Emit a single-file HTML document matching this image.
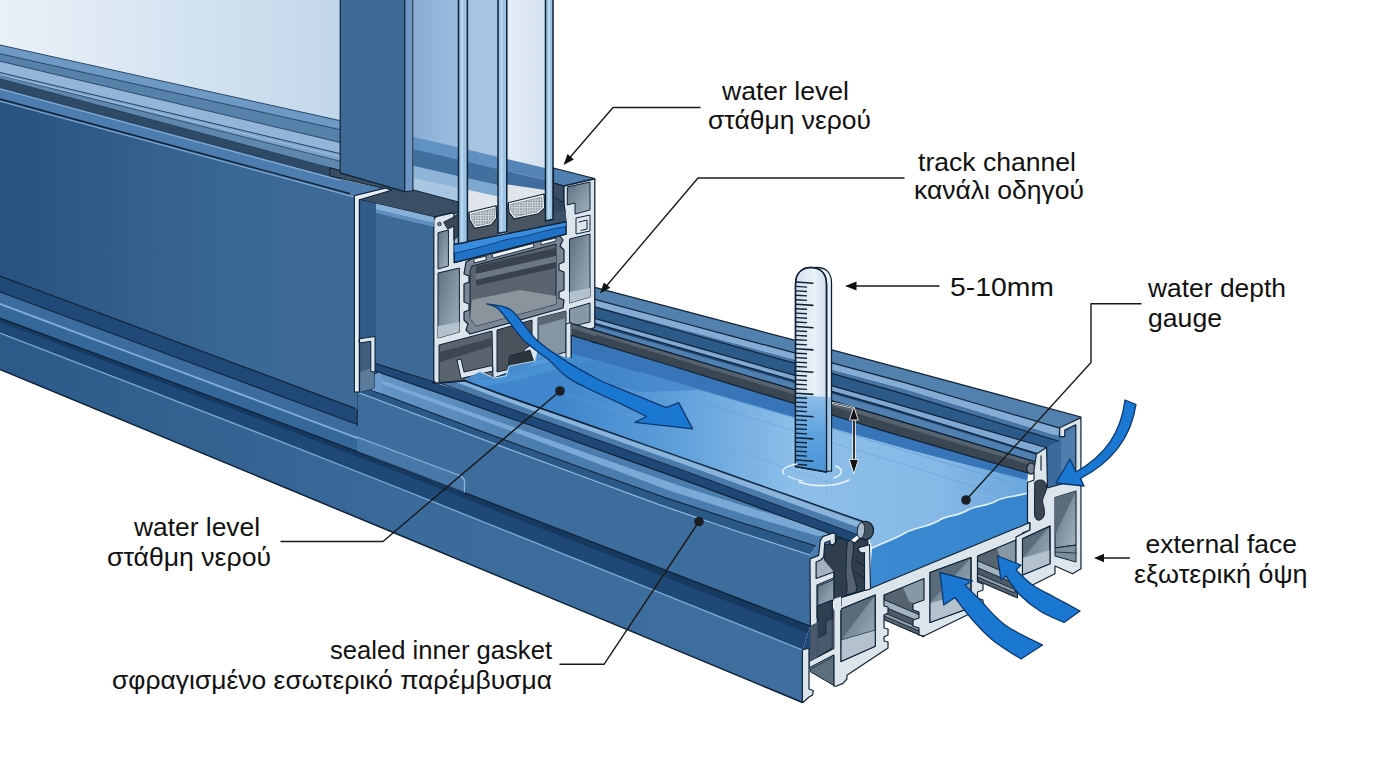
<!DOCTYPE html>
<html lang="el"><head><meta charset="utf-8"><title>Sliding door track water level diagram</title>
<style>
html,body{margin:0;padding:0;background:#fff;}
body{width:1376px;height:768px;overflow:hidden;font-family:"Liberation Sans",sans-serif;}
svg{display:block}
text{font-family:"Liberation Sans",sans-serif;font-size:26.5px;fill:#111;}
</style></head><body>
<svg width="1376" height="768" viewBox="0 0 1376 768">
<defs>
<linearGradient id="gGlass" x1="0" y1="0" x2="1" y2="0"><stop offset="0" stop-color="#eaf1f8"/><stop offset="0.5" stop-color="#d6e4f1"/><stop offset="1" stop-color="#c2d7ea"/></linearGradient>
<linearGradient id="gFace" x1="0" y1="0" x2="1" y2="0"><stop offset="0" stop-color="#27527f"/><stop offset="0.65" stop-color="#3a6895"/><stop offset="1" stop-color="#3d6a96"/></linearGradient>
<linearGradient id="gSill" x1="0" y1="0" x2="1" y2="0"><stop offset="0" stop-color="#2c5a88"/><stop offset="0.5" stop-color="#3b6b9b"/><stop offset="1" stop-color="#3f6f9e"/></linearGradient>
<linearGradient id="gWater" gradientUnits="userSpaceOnUse" x1="560" y1="0" x2="1030" y2="0"><stop offset="0" stop-color="#3f86cc"/><stop offset="0.22" stop-color="#5a9cd8"/><stop offset="0.5" stop-color="#8dbfe9"/><stop offset="0.8" stop-color="#86b9e6"/><stop offset="1" stop-color="#6aa6dc"/></linearGradient>
<linearGradient id="gWaterEnd" gradientUnits="userSpaceOnUse" x1="870" y1="0" x2="1030" y2="0"><stop offset="0" stop-color="#3b8ad2"/><stop offset="1" stop-color="#3684cc"/></linearGradient>
<linearGradient id="gCham" x1="0" y1="0" x2="1" y2="1"><stop offset="0" stop-color="#5d6f7f"/><stop offset="1" stop-color="#a3b3c0"/></linearGradient>
<linearGradient id="gGauge" x1="0" y1="0" x2="1" y2="0"><stop offset="0" stop-color="#d4e2ee"/><stop offset="0.6" stop-color="#e9f1f7"/><stop offset="1" stop-color="#cfdeeb"/></linearGradient>
<linearGradient id="gGW" x1="0" y1="0" x2="0" y2="1"><stop offset="0" stop-color="#8fbde6"/><stop offset="0.5" stop-color="#5fa3de"/><stop offset="1" stop-color="#4a94d8"/></linearGradient>
<linearGradient id="gP1" x1="0" y1="0" x2="1" y2="0"><stop offset="0" stop-color="#89add4"/><stop offset="1" stop-color="#9abddf"/></linearGradient>
<linearGradient id="gP3" x1="0" y1="0" x2="1" y2="0"><stop offset="0" stop-color="#e4ecf6"/><stop offset="1" stop-color="#d4e1ef"/></linearGradient>
<linearGradient id="gRidge" gradientUnits="userSpaceOnUse" x1="371" y1="0" x2="540" y2="0"><stop offset="0" stop-color="#7aaad8" stop-opacity="0.55"/><stop offset="0.5" stop-color="#7aaad8" stop-opacity="0.35"/><stop offset="1" stop-color="#7aaad8" stop-opacity="0"/></linearGradient>
<pattern id="pHex" width="2.6" height="2.6" patternUnits="userSpaceOnUse"><rect width="2.6" height="2.6" fill="#d2d8de"/><circle cx="1" cy="1" r="0.85" fill="#7b8793"/></pattern>
</defs>
<polygon points="1046.0,447.5 1059.0,428.0 1076.0,420.0 1076.0,500.0 1047.0,500.0" fill="#3b6b9c" stroke="none" stroke-width="1" stroke-linejoin="round" />
<polygon points="1061.0,436.0 1076.0,424.0 1076.0,498.0 1061.0,490.0" fill="#4d7eae" stroke="none" stroke-width="1" stroke-linejoin="round" />
<polygon points="592.0,286.7 673.5,308.2 755.0,329.7 836.5,351.2 918.0,372.9 999.5,394.9 1081.0,417.0 1059.0,427.8 981.2,405.0 903.3,382.2 825.5,361.2 747.7,340.4 669.8,319.5 592.0,298.7" fill="#5381ad" stroke="none" stroke-width="1" stroke-linejoin="round" />
<polygon points="592.0,298.7 669.8,319.5 747.7,340.4 825.5,361.2 903.3,382.2 981.2,405.0 1059.0,427.8 1058.3,435.9 980.6,412.2 902.9,388.6 825.1,367.7 747.4,346.8 669.7,326.0 592.0,305.2" fill="#84acd4" stroke="none" stroke-width="1" stroke-linejoin="round" />
<polygon points="592.0,305.2 669.7,326.0 747.4,346.8 825.1,367.7 902.9,388.6 980.6,412.2 1058.3,435.9 1058.0,441.0 980.3,417.3 902.7,393.6 825.0,371.7 747.3,349.9 669.7,328.0 592.0,306.2" fill="#4575a5" stroke="none" stroke-width="1" stroke-linejoin="round" />
<polygon points="592.0,306.2 669.7,328.0 747.3,349.9 825.0,371.7 902.7,393.6 980.3,417.3 1058.0,441.0 1046.0,447.5 970.3,425.6 894.7,403.7 819.0,382.2 743.3,360.7 667.7,339.2 592.0,317.6" fill="#2b5988" stroke="none" stroke-width="1" stroke-linejoin="round" />
<polygon points="592.0,317.6 667.7,339.2 743.3,360.7 819.0,382.2 894.7,403.7 970.3,425.6 1046.0,447.5 1036.4,453.4 962.3,430.4 888.3,407.6 814.2,386.4 740.1,365.1 666.1,343.9 592.0,322.6" fill="#7fa9d2" stroke="none" stroke-width="1" stroke-linejoin="round" />
<polygon points="592.0,322.6 666.1,343.9 740.1,365.1 814.2,386.4 888.3,407.6 962.3,430.4 1036.4,453.4 1036.0,462.0 962.0,439.9 888.0,417.7 814.0,395.7 740.0,373.7 666.0,351.6 592.0,329.6" fill="#4f80b0" stroke="none" stroke-width="1" stroke-linejoin="round" />
<polygon points="592.0,322.6 666.1,343.9 740.1,365.1 814.2,386.4 888.3,407.6 962.3,430.4 1036.4,453.4 1036.4,455.0 962.3,432.3 888.3,409.8 814.2,388.7 740.1,367.5 666.1,346.3 592.0,325.1" fill="#214a78" stroke="none" stroke-width="1" stroke-linejoin="round" />
<polyline points="592.0,286.7 673.5,308.2 755.0,329.7 836.5,351.2 918.0,372.9 999.5,394.9 1081.0,417.0" fill="none" stroke="#0f2236" stroke-width="1.2" stroke-linejoin="round" stroke-linecap="round" />
<polyline points="592.0,298.7 669.8,319.5 747.7,340.4 825.5,361.2 903.3,382.2 981.2,405.0 1059.0,427.8" fill="none" stroke="#0f2236" stroke-width="1.2" stroke-linejoin="round" stroke-linecap="round" />
<polyline points="592.0,306.2 669.7,328.0 747.3,349.9 825.0,371.7 902.7,393.6 980.3,417.3 1058.0,441.0" fill="none" stroke="#0f2236" stroke-width="1.2" stroke-linejoin="round" stroke-linecap="round" />
<polyline points="592.0,317.6 667.7,339.2 743.3,360.7 819.0,382.2 894.7,403.7 970.3,425.6 1046.0,447.5" fill="none" stroke="#0f2236" stroke-width="1.2" stroke-linejoin="round" stroke-linecap="round" />
<polyline points="592.0,322.6 666.1,343.9 740.1,365.1 814.2,386.4 888.3,407.6 962.3,430.4 1036.4,453.4" fill="none" stroke="#0f2236" stroke-width="1.2" stroke-linejoin="round" stroke-linecap="round" />
<polyline points="592.0,329.6 666.0,351.6 740.0,373.7 814.0,395.7 888.0,417.7 962.0,439.9 1036.0,462.0" fill="none" stroke="#0f2236" stroke-width="1.2" stroke-linejoin="round" stroke-linecap="round" />
<path d="M560,330 L592,342 L1028,473 L1027.5,493 C1015,497 1005,496 996,501 C985,507 975,505 966,511 C955,517 946,515 938,521 C925,528 915,527 905,533 C895,539 884,542 872,548 L863.6,521.7 L690,460.4 L500,393.9 L464,380.5 L440,360 Z" fill="url(#gWater)" stroke="none" stroke-width="1" stroke-linejoin="round" stroke-linecap="round" />
<polygon points="570.0,334.8 627.2,352.4 684.5,369.9 741.8,387.4 799.0,405.0 856.2,422.5 913.5,439.8 970.8,456.4 1028.0,473.0 1027.0,480.0 969.9,465.4 912.8,450.8 855.6,434.8 798.5,418.4 741.4,402.0 684.2,385.6 627.1,369.2 570.0,352.8" fill="#3875b8" stroke="none" stroke-width="1" stroke-linejoin="round" />
<path d="M592,360 L700,390 L640,392 L560,372 Z" fill="#3e80c6" stroke="none" stroke-width="1" stroke-linejoin="round" stroke-linecap="round" opacity="0.6"/>
<polyline points="640.0,372.0 1010.0,482.0" fill="none" stroke="#5f98cf" stroke-width="1" stroke-linejoin="round" stroke-linecap="round" opacity="0.55"/>
<polyline points="700.0,402.0 1000.0,494.0" fill="none" stroke="#5f98cf" stroke-width="1" stroke-linejoin="round" stroke-linecap="round" opacity="0.45"/>
<polyline points="560.0,392.0 840.0,486.0" fill="none" stroke="#6aa3d8" stroke-width="1" stroke-linejoin="round" stroke-linecap="round" opacity="0.4"/>
<path d="M1027.5,493 C1015,497 1005,496 996,501 C985,507 975,505 966,511 C955,517 946,515 938,521 C925,528 915,527 905,533 C895,539 884,542 872,548 L869,589 L1030,522.5 Z" fill="url(#gWaterEnd)" stroke="none" stroke-width="1" stroke-linejoin="round" stroke-linecap="round" />
<path d="M1027.5,493 C1015,497 1005,496 996,501 C985,507 975,505 966,511 C955,517 946,515 938,521 C925,528 915,527 905,533 C895,539 884,542 872,548" fill="none" stroke="#dff0fb" stroke-width="1.6" stroke-linejoin="round" stroke-linecap="round" />
<polygon points="592.0,329.6 666.0,351.6 740.0,373.7 814.0,395.7 888.0,417.7 962.0,439.9 1036.0,462.0 1028.0,473.0 955.3,451.9 882.7,430.6 810.0,408.3 737.3,386.1 664.7,363.8 592.0,341.6" fill="#3a4652" stroke="none" stroke-width="1" stroke-linejoin="round" />
<polygon points="592.0,329.6 666.0,351.6 740.0,373.7 814.0,395.7 888.0,417.7 962.0,439.9 1036.0,462.0 1034.0,466.0 960.3,444.3 886.7,422.5 813.0,400.3 739.3,378.0 665.7,355.8 592.0,333.6" fill="#56636f" stroke="none" stroke-width="1" stroke-linejoin="round" />
<polyline points="592.0,329.6 666.0,351.6 740.0,373.7 814.0,395.7 888.0,417.7 962.0,439.9 1036.0,462.0" fill="none" stroke="#0f2236" stroke-width="1.2" stroke-linejoin="round" stroke-linecap="round" />
<polyline points="592.0,341.6 664.7,363.8 737.3,386.1 810.0,408.3 882.7,430.6 955.3,451.9 1028.0,473.0" fill="none" stroke="#0f2236" stroke-width="1.2" stroke-linejoin="round" stroke-linecap="round" />
<ellipse cx="1031" cy="468.5" rx="4.2" ry="5.6" fill="#77838e" stroke="#0f2236" stroke-width="1.2"/>
<polygon points="0.0,292.0 59.5,314.1 119.0,336.1 178.5,358.2 238.0,380.2 297.5,402.3 357.0,424.3 357.0,517.4 297.5,492.7 238.0,468.1 178.5,443.4 119.0,418.8 59.5,394.1 0.0,369.5" fill="url(#gSill)" stroke="none" stroke-width="1" stroke-linejoin="round" />
<polygon points="0.0,276.0 59.5,298.2 119.0,320.3 178.5,342.5 238.0,364.6 297.5,386.8 357.0,409.0 357.0,424.3 297.5,402.3 238.0,380.2 178.5,358.2 119.0,336.1 59.5,314.1 0.0,292.0" fill="#1f4a78" stroke="none" stroke-width="1" stroke-linejoin="round" />
<polygon points="0.0,292.0 59.5,314.1 119.0,336.1 178.5,358.2 238.0,380.2 297.5,402.3 357.0,424.3 357.0,436.9 297.5,414.6 238.0,392.2 178.5,369.9 119.0,347.6 59.5,325.3 0.0,303.0" fill="#3b6c9d" stroke="none" stroke-width="1" stroke-linejoin="round" />
<polyline points="0.0,292.0 59.5,314.1 119.0,336.1 178.5,358.2 238.0,380.2 297.5,402.3 357.0,424.3" fill="none" stroke="#0f2236" stroke-width="1.1" stroke-linejoin="round" stroke-linecap="round" />
<polygon points="0.0,303.0 59.5,325.3 119.0,347.6 178.5,369.9 238.0,392.2 297.5,414.6 357.0,436.9 357.0,451.0 297.5,428.7 238.0,406.6 178.5,384.4 119.0,362.3 59.5,340.1 0.0,318.0" fill="#356898" stroke="none" stroke-width="1" stroke-linejoin="round" />
<polyline points="0.0,304.0 59.5,326.3 119.0,348.6 178.5,370.9 238.0,393.2 297.5,415.6 357.0,437.9" fill="none" stroke="#7fabd6" stroke-width="2.0" stroke-linejoin="round" stroke-linecap="round" />
<polygon points="357.0,392.0 432.5,420.5 508.0,448.9 583.5,476.8 659.0,504.6 734.5,530.5 810.0,555.0 810.0,626.0 734.5,596.8 659.0,567.7 583.5,538.5 508.0,509.3 432.5,480.2 357.0,451.0" fill="#3d6d9d" stroke="none" stroke-width="1" stroke-linejoin="round" />
<polygon points="0.0,318.0 135.0,368.2 270.0,418.5 405.0,469.6 540.0,521.7 675.0,573.9 810.0,626.0 802.5,650.0 668.8,596.3 535.0,542.6 401.2,489.0 267.5,436.4 133.8,384.7 0.0,333.0" fill="#1e4876" stroke="none" stroke-width="1" stroke-linejoin="round" />
<polygon points="0.0,318.0 135.0,368.2 270.0,418.5 405.0,469.6 540.0,521.7 675.0,573.9 810.0,626.0 808.0,633.0 673.3,580.2 538.7,527.4 404.0,474.5 269.3,423.0 134.7,372.5 0.0,322.0" fill="#16395f" stroke="none" stroke-width="1" stroke-linejoin="round" />
<polygon points="0.0,333.0 133.8,384.7 267.5,436.4 401.2,489.0 535.0,542.6 668.8,596.3 802.5,650.0 802.5,702.5 668.8,646.9 535.0,591.4 401.2,535.8 267.5,480.3 133.8,424.9 0.0,369.5" fill="url(#gSill)" stroke="none" stroke-width="1" stroke-linejoin="round" />
<polyline points="0.0,333.0 133.8,384.7 267.5,436.4 401.2,489.0 535.0,542.6 668.8,596.3 802.5,650.0" fill="none" stroke="#7fa9d2" stroke-width="1.3" stroke-linejoin="round" stroke-linecap="round" />
<polyline points="0.0,369.5 133.8,424.9 267.5,480.3 401.2,535.8 535.0,591.4 668.8,646.9 802.5,702.5" fill="none" stroke="#0f2236" stroke-width="1.5" stroke-linejoin="round" stroke-linecap="round" />
<polyline points="0.0,318.0 135.0,368.2 270.0,418.5 405.0,469.6 540.0,521.7 675.0,573.9 810.0,626.0" fill="none" stroke="#0f2236" stroke-width="1.2" stroke-linejoin="round" stroke-linecap="round" />
<polygon points="357.0,437.0 461.0,476.0 464.0,480.0 464.0,493.0 357.0,451.5" fill="#6a9dcd" stroke="none" stroke-width="1" stroke-linejoin="round" opacity="0.25"/>
<polyline points="357.0,437.0 461.0,476.0 464.5,480.0 464.5,492.0" fill="none" stroke="#9cc2e4" stroke-width="1.3" stroke-linejoin="round" stroke-linecap="round" opacity="0.85"/>
<polygon points="375.0,371.0 454.2,398.4 533.3,426.2 612.5,454.6 691.7,482.9 770.8,512.0 850.0,541.0 816.0,546.0 742.5,522.9 669.0,498.9 595.5,472.6 522.0,446.3 448.5,419.1 375.0,391.5" fill="#4a7cae" stroke="none" stroke-width="1" stroke-linejoin="round" />
<polygon points="375.0,378.0 451.7,405.2 528.3,432.3 605.0,459.5 681.7,486.6 758.3,510.2 835.0,533.4 818.4,536.3 744.5,514.5 670.6,491.1 596.7,463.2 522.8,435.3 448.9,408.2 375.0,381.5" fill="#7ba9d5" stroke="none" stroke-width="1" stroke-linejoin="round" />
<polygon points="375.0,371.0 540.0,428.6 540.0,452.8 371.0,390.0" fill="url(#gRidge)" stroke="none" stroke-width="1" stroke-linejoin="round" />
<polygon points="357.0,384.7 433.5,413.4 510.0,442.0 586.5,469.4 663.0,496.7 739.5,522.0 816.0,546.0 810.0,555.0 734.5,530.5 659.0,504.6 583.5,476.8 508.0,448.9 432.5,420.5 357.0,392.0" fill="#2a5988" stroke="none" stroke-width="1" stroke-linejoin="round" />
<polyline points="357.0,392.0 432.5,420.5 508.0,448.9 583.5,476.8 659.0,504.6 734.5,530.5 810.0,555.0" fill="none" stroke="#8fb8de" stroke-width="1.2" stroke-linejoin="round" stroke-linecap="round" />
<polyline points="357.3,392.0 357.3,426.0" fill="none" stroke="#0f2236" stroke-width="1.1" stroke-linejoin="round" stroke-linecap="round" />
<polyline points="371.0,390.0 445.2,417.8 519.3,445.3 593.5,471.9 667.7,498.4 741.8,522.7 816.0,546.0" fill="none" stroke="#0f2236" stroke-width="1.1" stroke-linejoin="round" stroke-linecap="round" />
<polygon points="375.0,363.0 455.5,389.3 536.0,417.8 616.5,446.6 697.0,475.4 777.5,505.2 858.0,535.0 850.0,541.0 770.8,512.0 691.7,482.9 612.5,454.6 533.3,426.2 454.2,398.4 375.0,371.0" fill="#1e4876" stroke="none" stroke-width="1" stroke-linejoin="round" />
<polygon points="434.0,369.5 469.8,382.7 505.6,395.9 541.4,408.4 577.2,420.9 613.0,433.4 648.8,446.0 684.6,458.5 720.4,471.1 756.2,483.8 792.0,496.4 827.8,509.1 863.6,521.7 858.0,535.0 822.7,521.9 787.3,508.8 752.0,495.8 716.7,482.7 681.3,469.7 646.0,457.1 610.7,444.5 575.3,431.9 540.0,419.3 504.7,406.7 469.3,393.9 434.0,381.0" fill="#4a7aaa" stroke="none" stroke-width="1" stroke-linejoin="round" />
<polygon points="434.0,370.5 469.8,383.7 505.5,396.9 541.2,409.5 577.0,422.0 612.8,434.5 648.5,447.1 684.2,459.6 720.0,472.2 755.8,484.9 791.5,497.6 827.2,510.3 863.0,523.0 861.0,528.5 825.4,515.6 789.8,502.7 754.2,489.8 718.7,476.9 683.1,464.0 647.5,451.4 611.9,438.8 576.3,426.1 540.8,413.5 505.2,400.8 469.6,387.2 434.0,374.0" fill="#8ab4da" stroke="none" stroke-width="1" stroke-linejoin="round" />
<polyline points="434.0,369.5 469.8,382.7 505.6,395.9 541.4,408.4 577.2,420.9 613.0,433.4 648.8,446.0 684.6,458.5 720.4,471.1 756.2,483.8 792.0,496.4 827.8,509.1 863.6,521.7" fill="none" stroke="#0f2236" stroke-width="1.3" stroke-linejoin="round" stroke-linecap="round" />
<polyline points="434.0,381.0 469.3,393.9 504.7,406.7 540.0,419.3 575.3,431.9 610.7,444.5 646.0,457.1 681.3,469.7 716.7,482.7 752.0,495.8 787.3,508.8 822.7,521.9 858.0,535.0" fill="none" stroke="#0f2236" stroke-width="1" stroke-linejoin="round" stroke-linecap="round" />
<polyline points="375.0,371.0 454.2,398.4 533.3,426.2 612.5,454.6 691.7,482.9 770.8,512.0 850.0,541.0" fill="none" stroke="#0f2236" stroke-width="1.2" stroke-linejoin="round" stroke-linecap="round" />
<path d="M371.2,390 L371.2,379 Q371.6,373.6 377,372.6 L382,374.3 L382,393.5 Z" fill="#6a9ccc" stroke="none" stroke-width="1" stroke-linejoin="round" stroke-linecap="round" />
<path d="M371.2,390 L371.2,379 Q371.6,373.6 377,372.6" fill="none" stroke="#0f2236" stroke-width="1.1" stroke-linejoin="round" stroke-linecap="round" />
<ellipse cx="865.5" cy="530.5" rx="8" ry="9.2" fill="#44525f" stroke="#0f2236" stroke-width="1.3"/>
<ellipse cx="861" cy="530.5" rx="3.6" ry="8" fill="#a9bccd" stroke="#0f2236" stroke-width="0.8" transform="rotate(6 861 530.5)"/>
<polygon points="884.0,595.0 924.0,578.5 924.0,637.0 919.2,635.0 884.0,619.6" fill="#55646f" stroke="#0f2236" stroke-width="1.0" stroke-linejoin="round" />
<polygon points="903.0,587.2 924.0,578.5 924.0,608.0 909.0,601.5" fill="#8797a3" stroke="none" stroke-width="1" stroke-linejoin="round" />
<polygon points="884.0,599.7 920.4,615.1 920.4,622.1 884.0,606.7" fill="#a2b2be" stroke="none" stroke-width="1" stroke-linejoin="round" />
<polygon points="884.0,606.7 920.4,622.1 920.4,628.0 884.0,612.6" fill="#4c5b67" stroke="none" stroke-width="1" stroke-linejoin="round" />
<polygon points="884.0,612.6 920.4,628.0 919.8,631.5 884.0,616.1" fill="#8c9da9" stroke="none" stroke-width="1" stroke-linejoin="round" />
<polygon points="884.0,616.1 919.8,631.5 919.2,635.0 884.0,619.6" fill="#566672" stroke="none" stroke-width="1" stroke-linejoin="round" />
<polyline points="884.0,599.7 920.0,615.1" fill="none" stroke="#1c2834" stroke-width="1.0" stroke-linejoin="round" stroke-linecap="round" />
<polyline points="884.0,606.7 920.0,622.1" fill="none" stroke="#1c2834" stroke-width="1.0" stroke-linejoin="round" stroke-linecap="round" />
<polyline points="884.0,612.6 920.0,628.0" fill="none" stroke="#1c2834" stroke-width="1.0" stroke-linejoin="round" stroke-linecap="round" />
<polyline points="884.0,616.1 920.0,631.5" fill="none" stroke="#1c2834" stroke-width="1.0" stroke-linejoin="round" stroke-linecap="round" />
<polyline points="884.0,619.6 920.0,635.0" fill="none" stroke="#1c2834" stroke-width="1.0" stroke-linejoin="round" stroke-linecap="round" />
<polygon points="977.5,556.0 1017.5,539.5 1017.5,598.0 1012.7,596.0 977.5,580.6" fill="#55646f" stroke="#0f2236" stroke-width="1.0" stroke-linejoin="round" />
<polygon points="996.5,548.2 1017.5,539.5 1017.5,569.0 1002.5,562.5" fill="#8797a3" stroke="none" stroke-width="1" stroke-linejoin="round" />
<polygon points="977.5,560.7 1013.9,576.1 1013.9,583.1 977.5,567.7" fill="#a2b2be" stroke="none" stroke-width="1" stroke-linejoin="round" />
<polygon points="977.5,567.7 1013.9,583.1 1013.9,589.0 977.5,573.6" fill="#4c5b67" stroke="none" stroke-width="1" stroke-linejoin="round" />
<polygon points="977.5,573.6 1013.9,589.0 1013.3,592.5 977.5,577.1" fill="#8c9da9" stroke="none" stroke-width="1" stroke-linejoin="round" />
<polygon points="977.5,577.1 1013.3,592.5 1012.7,596.0 977.5,580.6" fill="#566672" stroke="none" stroke-width="1" stroke-linejoin="round" />
<polyline points="977.5,560.7 1013.5,576.1" fill="none" stroke="#1c2834" stroke-width="1.0" stroke-linejoin="round" stroke-linecap="round" />
<polyline points="977.5,567.7 1013.5,583.1" fill="none" stroke="#1c2834" stroke-width="1.0" stroke-linejoin="round" stroke-linecap="round" />
<polyline points="977.5,573.6 1013.5,589.0" fill="none" stroke="#1c2834" stroke-width="1.0" stroke-linejoin="round" stroke-linecap="round" />
<polyline points="977.5,577.1 1013.5,592.5" fill="none" stroke="#1c2834" stroke-width="1.0" stroke-linejoin="round" stroke-linecap="round" />
<polyline points="977.5,580.6 1013.5,596.0" fill="none" stroke="#1c2834" stroke-width="1.0" stroke-linejoin="round" stroke-linecap="round" />
<path d="M841,597.5 L869,589 L1030,522.5 L1030,530 L1022.5,533 L1022.5,590 L1016,592 L1016,540 L977.5,556 L977.5,582 L983,584 L983,590 L977.5,592 L977.5,598 L983,600 L983,606 L977.5,610 L924,636 L919,635 L919,628 L913,626 L913,620 L919,618 L919,612 L913,610 L913,604 L924,600 L924,578.5 L884,595 L884,606 L888,607 L888,613 L884,615 L884,628 L888,629 L888,635 L884,637 L884,641 L888,642 L888,648 L846.9,675.3 L846.9,679 L843,683.4 L836,686.3 L833.8,686 L833.8,655 L809,668 L809,661.5 L833.8,648.4 L833.8,609 L841,606 Z" fill="#dce5ec" stroke="#0f2236" stroke-width="1.2" stroke-linejoin="round" stroke-linecap="round" />
<polygon points="841.0,609.0 875.3,595.1 875.3,646.2 841.0,661.5" fill="url(#gCham)" stroke="#0f2236" stroke-width="1.1" stroke-linejoin="round" />
<polygon points="841.0,661.5 875.3,646.2 875.3,630.0 841.0,640.0" fill="#b4c2cd" stroke="none" stroke-width="1" stroke-linejoin="round" />
<polyline points="841.0,640.0 875.3,630.0" fill="none" stroke="#3a4856" stroke-width="0.9" stroke-linejoin="round" stroke-linecap="round" />
<polygon points="841.0,609.0 875.3,595.1 841.0,640.0" fill="#5a6b7a" stroke="none" stroke-width="1" stroke-linejoin="round" />
<polygon points="841.0,609.0 875.3,595.1 875.3,646.2 841.0,661.5" fill="none" stroke="#0f2236" stroke-width="1.1" stroke-linejoin="round" />
<polygon points="930.0,572.5 971.0,557.5 971.0,607.5 930.0,622.5" fill="url(#gCham)" stroke="#0f2236" stroke-width="1.1" stroke-linejoin="round" />
<polygon points="930.0,622.5 971.0,607.5 971.0,592.0 930.0,603.0" fill="#b4c2cd" stroke="none" stroke-width="1" stroke-linejoin="round" />
<polygon points="930.0,572.5 971.0,557.5 930.0,603.0" fill="#5a6b7a" stroke="none" stroke-width="1" stroke-linejoin="round" />
<polygon points="930.0,572.5 971.0,557.5 971.0,607.5 930.0,622.5" fill="none" stroke="#0f2236" stroke-width="1.1" stroke-linejoin="round" />
<polygon points="1022.5,538.8 1050.0,526.0 1050.0,563.8 1022.5,575.0" fill="url(#gCham)" stroke="#0f2236" stroke-width="1.1" stroke-linejoin="round" />
<polygon points="1022.5,575.0 1050.0,563.8 1050.0,550.0 1022.5,558.0" fill="#b4c2cd" stroke="none" stroke-width="1" stroke-linejoin="round" />
<polygon points="1022.5,538.8 1050.0,526.0 1022.5,558.0" fill="#5a6b7a" stroke="none" stroke-width="1" stroke-linejoin="round" />
<polygon points="1022.5,538.8 1050.0,526.0 1050.0,563.8 1022.5,575.0" fill="none" stroke="#0f2236" stroke-width="1.1" stroke-linejoin="round" />
<path d="M1016,537 L1030,530 L1030,522.5 L1027.5,522.5 L1027.5,482.5 L1034,480 L1034,470 L1036.4,454 L1046.6,447.5 L1047.5,488 L1075.8,480 L1075.8,424.9 L1064.8,430 L1064.8,436.6 L1059.7,436.6 L1059.7,427.8 L1080.9,417.6 L1081,568.8 L1072.5,573.8 L1055,566 L1055,573.8 L1022.5,590 L1016,592 Z" fill="#dce5ec" stroke="#0f2236" stroke-width="1.2" stroke-linejoin="round" stroke-linecap="round" />
<polygon points="1022.5,538.8 1050.0,526.0 1050.0,563.8 1022.5,575.0" fill="url(#gCham)" stroke="#0f2236" stroke-width="1.1" stroke-linejoin="round" />
<polygon points="1022.5,575.0 1050.0,563.8 1050.0,550.0 1022.5,558.0" fill="#b4c2cd" stroke="none" stroke-width="1" stroke-linejoin="round" />
<polygon points="1022.5,538.8 1050.0,526.0 1022.5,558.0" fill="#5a6b7a" stroke="none" stroke-width="1" stroke-linejoin="round" />
<polygon points="1022.5,538.8 1050.0,526.0 1050.0,563.8 1022.5,575.0" fill="none" stroke="#0f2236" stroke-width="1.1" stroke-linejoin="round" />
<polygon points="1055.0,497.5 1076.0,491.0 1076.0,545.0 1055.0,548.0" fill="url(#gCham)" stroke="#0f2236" stroke-width="1.1" stroke-linejoin="round" />
<polygon points="1055.0,497.5 1076.0,491.0 1055.0,535.0" fill="#5a6b7a" stroke="none" stroke-width="1" stroke-linejoin="round" />
<polygon points="1055.0,548.0 1076.0,545.0 1076.0,562.0 1055.0,556.0" fill="#7d8e9c" stroke="#0f2236" stroke-width="1.0" stroke-linejoin="round" />
<polyline points="1055.0,552.0 1076.0,553.0" fill="none" stroke="#2c3a48" stroke-width="1" stroke-linejoin="round" stroke-linecap="round" />
<path d="M1035,482 C1040,478 1046,480 1046.5,486 C1047,494 1041,497 1043,504 C1045,511 1046,517 1040,520 C1036,521 1034.5,518 1034.5,512 Z" fill="#3a4652" stroke="#0f2236" stroke-width="1" stroke-linejoin="round" stroke-linecap="round" />
<polyline points="1041.0,456.0 1041.0,470.0" fill="none" stroke="#3a4652" stroke-width="1.4" stroke-linejoin="round" stroke-linecap="round" />
<path d="M823.7,545 L835.4,542.7 L837,537.5 L855.3,542.7 L860,538 L868,541 L869,589 L862,591 L841,597.5 L833.8,600 L833.8,572 L823.7,560 Z" fill="#2f3d4e" stroke="#0f2236" stroke-width="1.1" stroke-linejoin="round" stroke-linecap="round" />
<path d="M852,541 C856,548 851,556 852,566 C853,578 858,584 856,592 L846,595 C849,586 845,578 846,568 C847,556 846,548 848,541 Z" fill="#56636f" stroke="#0f2236" stroke-width="0.9" stroke-linejoin="round" stroke-linecap="round" />
<polyline points="855.0,560.0 864.0,566.0" fill="none" stroke="#0f2236" stroke-width="0.9" stroke-linejoin="round" stroke-linecap="round" />
<polyline points="855.0,572.0 864.0,578.0" fill="none" stroke="#0f2236" stroke-width="0.9" stroke-linejoin="round" stroke-linecap="round" />
<path d="M858.3,547.8 C858,552 862,554 864.5,552.5 L864.5,590.5 L870.5,589 L869.5,544.8 Z" fill="#dce5ec" stroke="#0f2236" stroke-width="1.1" stroke-linejoin="round" stroke-linecap="round" />
<polygon points="809.5,555.5 816.0,546.0 818.4,536.3 823.0,536.3 821.0,541.0 819.0,556.0 810.0,560.0" fill="#4a7cae" stroke="none" stroke-width="1" stroke-linejoin="round" />
<polygon points="815.5,562.0 820.7,560.0 823.7,556.0 824.0,560.0 834.0,572.0 816.0,579.0" fill="#a3b1be" stroke="none" stroke-width="1" stroke-linejoin="round" />
<path d="M810,559 L818.7,555.4 L820.2,540.7 L822.7,536.6 L832.9,533 L835.4,534 L835.4,542.7 L832.9,544.8 L830.4,544.3 L829.8,540.7 L824.8,542.7 L823.7,557 L820.7,560 L816.1,562 L816.1,578.5 L833.8,572 L833.8,578 L817,585 L817,618 L820.6,618 L820.6,622 L810.4,626.5 Z" fill="#dce5ec" stroke="#0f2236" stroke-width="1.2" stroke-linejoin="round" stroke-linecap="round" />
<polygon points="817.7,586.0 833.8,579.5 833.8,600.0 817.7,606.0" fill="url(#gCham)" stroke="#0f2236" stroke-width="1" stroke-linejoin="round" />
<path d="M817.7,606 L832.3,600 L832.3,648 L817.7,657 Z" fill="#4a5a6c" stroke="#0f2236" stroke-width="1" stroke-linejoin="round" stroke-linecap="round" />
<path d="M817.7,606 L832.3,600 L832.3,618 L826,621 L826,634 L817.7,638 Z" fill="#2f3f52" stroke="#0f2236" stroke-width="0.8" stroke-linejoin="round" stroke-linecap="round" />
<polygon points="802.5,650.5 810.4,626.0 817.7,622.0 817.7,657.0 809.0,661.5 809.0,649.0" fill="#4a5a6c" stroke="none" stroke-width="1" stroke-linejoin="round" />
<polygon points="802.5,650.5 810.4,626.0 810.4,650.0" fill="#1e4876" stroke="none" stroke-width="1" stroke-linejoin="round" />
<polygon points="833.8,599.0 841.0,596.5 841.0,610.0 833.8,610.0" fill="#dce5ec" stroke="none" stroke-width="1" stroke-linejoin="round" />
<polygon points="802.4,650.0 809.0,648.0 809.0,689.0 813.3,690.7 812.6,695.0 809.0,697.0 803.0,702.5 802.4,702.5" fill="#dce5ec" stroke="#0f2236" stroke-width="1.2" stroke-linejoin="round" />
<polygon points="810.4,668.8 833.8,656.4 833.8,685.5 810.4,671.7" fill="#5d6e7d" stroke="#0f2236" stroke-width="1" stroke-linejoin="round" />
<polygon points="0.0,0.0 340.0,0.0 340.0,120.6 0.0,45.0" fill="url(#gGlass)" stroke="none" stroke-width="1" stroke-linejoin="round" />
<polygon points="0.0,45.0 340.0,120.6 340.0,129.7 0.0,53.8" fill="#6d99c4" stroke="none" stroke-width="1" stroke-linejoin="round" />
<polygon points="0.0,53.8 340.0,129.7 340.0,142.4 0.0,61.2" fill="#5682aa" stroke="none" stroke-width="1" stroke-linejoin="round" />
<polygon points="0.0,61.2 340.0,142.4 340.0,153.6 0.0,72.5" fill="#93b6d8" stroke="none" stroke-width="1" stroke-linejoin="round" />
<polygon points="0.0,72.5 340.0,153.6 340.0,170.5 0.0,78.8" fill="#5f88ae" stroke="none" stroke-width="1" stroke-linejoin="round" />
<polygon points="0.0,72.5 340.0,153.6 340.0,161.2 0.0,75.3" fill="#7ea6cc" stroke="none" stroke-width="1" stroke-linejoin="round" />
<polyline points="0.0,75.3 340.0,161.2" fill="none" stroke="#2a4a6c" stroke-width="0.9" stroke-linejoin="round" stroke-linecap="round" />
<polygon points="0.0,78.8 340.0,170.5 340.0,178.7 0.0,87.5" fill="#2f4a66" stroke="none" stroke-width="1" stroke-linejoin="round" />
<polygon points="0.0,87.5 357.0,183.2 357.0,195.5 0.0,99.0" fill="#4d7dae" stroke="none" stroke-width="1" stroke-linejoin="round" />
<polyline points="0.0,45.0 340.0,120.6" fill="none" stroke="#1c3a5a" stroke-width="0.9" stroke-linejoin="round" stroke-linecap="round" />
<polyline points="0.0,53.8 340.0,129.7" fill="none" stroke="#1c3a5a" stroke-width="0.9" stroke-linejoin="round" stroke-linecap="round" />
<polyline points="0.0,61.2 340.0,142.4" fill="none" stroke="#1c3a5a" stroke-width="0.9" stroke-linejoin="round" stroke-linecap="round" />
<polyline points="0.0,72.5 340.0,153.6" fill="none" stroke="#1c3a5a" stroke-width="0.9" stroke-linejoin="round" stroke-linecap="round" />
<polyline points="0.0,78.8 340.0,170.5" fill="none" stroke="#1c3a5a" stroke-width="0.9" stroke-linejoin="round" stroke-linecap="round" />
<polyline points="0.0,87.5 340.0,178.7" fill="none" stroke="#1c3a5a" stroke-width="0.9" stroke-linejoin="round" stroke-linecap="round" />
<polyline points="0.0,75.0 340.0,156.6" fill="none" stroke="#a9c6e0" stroke-width="0.8" stroke-linejoin="round" stroke-linecap="round" />
<polyline points="0.0,89.0 340.0,180.2" fill="none" stroke="#86aed4" stroke-width="1.2" stroke-linejoin="round" stroke-linecap="round" />
<polygon points="0.0,99.0 355.0,195.0 357.5,195.7 357.5,409.2 0.0,276.0" fill="url(#gFace)" stroke="none" stroke-width="1" stroke-linejoin="round" />
<polyline points="0.0,99.0 355.0,195.0" fill="none" stroke="#0f2236" stroke-width="1.3" stroke-linejoin="round" stroke-linecap="round" />
<polyline points="0.0,101.2 355.0,197.2" fill="none" stroke="#7ea8d0" stroke-width="1.2" stroke-linejoin="round" stroke-linecap="round" />
<polyline points="0.0,276.0 355.0,408.3" fill="none" stroke="#0f2236" stroke-width="1.3" stroke-linejoin="round" stroke-linecap="round" />
<polygon points="413.5,0.0 458.5,0.0 458.5,246.0 413.5,246.0" fill="url(#gP1)" stroke="none" stroke-width="1" stroke-linejoin="round" />
<polygon points="467.0,0.0 498.0,0.0 498.0,240.0 467.0,240.0" fill="#a5c5e1" stroke="none" stroke-width="1" stroke-linejoin="round" />
<polygon points="507.0,0.0 545.0,0.0 545.0,230.0 507.0,230.0" fill="url(#gP3)" stroke="none" stroke-width="1" stroke-linejoin="round" />
<polygon points="413.5,137.0 458.5,147.6 458.5,159.6 413.5,149.0" fill="#6093c4" stroke="none" stroke-width="1" stroke-linejoin="round" />
<polygon points="413.5,149.0 458.5,159.6 458.5,176.3 413.5,166.0" fill="#41709f" stroke="none" stroke-width="1" stroke-linejoin="round" />
<polygon points="413.5,166.0 458.5,176.3 458.5,187.9 413.5,178.0" fill="#8eb4d8" stroke="none" stroke-width="1" stroke-linejoin="round" />
<polygon points="413.5,178.0 458.5,187.9 458.5,204.9 413.5,196.0" fill="#a9c6e2" stroke="none" stroke-width="1" stroke-linejoin="round" />
<polygon points="467.0,149.6 498.0,156.9 498.0,168.9 467.0,161.6" fill="#5f90c0" stroke="none" stroke-width="1" stroke-linejoin="round" />
<polygon points="467.0,161.6 498.0,168.9 498.0,185.3 467.0,178.2" fill="#41709f" stroke="none" stroke-width="1" stroke-linejoin="round" />
<polygon points="467.0,178.2 498.0,185.3 498.0,196.6 467.0,189.8" fill="#7ea8d0" stroke="none" stroke-width="1" stroke-linejoin="round" />
<polygon points="467.0,189.8 498.0,196.6 498.0,212.7 467.0,206.6" fill="#dfe5ea" stroke="none" stroke-width="1" stroke-linejoin="round" />
<polygon points="507.0,159.0 545.0,168.0 545.0,180.0 507.0,171.0" fill="#5585b6" stroke="none" stroke-width="1" stroke-linejoin="round" />
<polygon points="507.0,171.0 545.0,180.0 545.0,196.0 507.0,187.3" fill="#3f6e9e" stroke="none" stroke-width="1" stroke-linejoin="round" />
<polygon points="507.0,187.3 545.0,196.0 545.0,207.0 507.0,198.6" fill="#dfe5ea" stroke="none" stroke-width="1" stroke-linejoin="round" />
<polygon points="553.0,175.0 566.0,186.0 566.0,223.0 553.0,222.0" fill="#33475c" stroke="none" stroke-width="1" stroke-linejoin="round" />
<polygon points="553.5,168.0 594.5,178.5 564.0,186.0 553.5,183.0" fill="#4f80b0" stroke="#0f2236" stroke-width="1.1" stroke-linejoin="round" />
<polygon points="553.5,183.0 564.0,186.0 564.0,203.0 553.5,197.0" fill="#3a4d62" stroke="#0f2236" stroke-width="0.9" stroke-linejoin="round" />
<polygon points="350.0,181.4 386.0,189.0 354.4,196.2 350.0,194.5" fill="#4d7dae" stroke="none" stroke-width="1" stroke-linejoin="round" />
<polygon points="330.0,167.8 458.2,201.9 458.2,213.0 451.0,213.6 433.8,217.0 359.5,199.8 354.4,195.8 385.0,188.7 330.0,176.0" fill="#3a4e64" stroke="#0f2236" stroke-width="1" stroke-linejoin="round" />
<path d="M436,216.7 L451.4,213 L454,214 L454.3,262.6 L566,234.2 L566,221.8 L564,203 L564,186 L594.8,178.8 L594.8,327.5 L571,336 L571,358 L566,360 L537,366 L510,372 L494,378 L463,381 L439,383 L433,383 L433,220 Z" fill="#dce5ec" stroke="#0f2236" stroke-width="1.3" stroke-linejoin="round" stroke-linecap="round" />
<polygon points="438.0,232.7 448.4,230.0 448.4,266.0 438.0,269.0" fill="url(#gCham)" stroke="#0f2236" stroke-width="1" stroke-linejoin="round" />
<polygon points="438.0,273.0 459.4,268.0 459.4,332.0 438.0,338.0" fill="url(#gCham)" stroke="#0f2236" stroke-width="1" stroke-linejoin="round" />
<polygon points="438.0,338.0 459.4,332.0 459.4,322.0 438.0,326.0" fill="#b4c2cd" stroke="none" stroke-width="1" stroke-linejoin="round" />
<path d="M444,222 L452,218 L458.5,214 L458.5,236 L454,240 L454,226 L448,229 Z" fill="#3b4754" stroke="#0f2236" stroke-width="1" stroke-linejoin="round" stroke-linecap="round" />
<circle cx="439.5" cy="224" r="1.8" fill="#7d8b98" stroke="#0f2236" stroke-width="0.8"/>
<polygon points="567.3,187.0 590.0,182.0 590.0,210.0 575.0,214.0 575.0,203.0 567.3,205.0" fill="url(#gCham)" stroke="#0f2236" stroke-width="1" stroke-linejoin="round" />
<polygon points="576.0,218.0 590.0,215.0 590.0,231.0 576.0,234.0" fill="#dce5ec" stroke="#0f2236" stroke-width="1" stroke-linejoin="round" />
<path d="M579,222 L587,220 L587,229 L581,230.5" fill="none" stroke="#0f2236" stroke-width="1" stroke-linejoin="round" stroke-linecap="round" />
<polygon points="569.5,239.0 590.0,234.0 590.0,297.0 569.5,303.0" fill="url(#gCham)" stroke="#0f2236" stroke-width="1" stroke-linejoin="round" />
<polygon points="569.5,303.0 590.0,297.0 590.0,288.0 569.5,292.0" fill="#b4c2cd" stroke="none" stroke-width="1" stroke-linejoin="round" />
<polygon points="569.5,309.0 590.0,303.0 590.0,322.0 569.5,327.0" fill="#8797a5" stroke="#0f2236" stroke-width="1" stroke-linejoin="round" />
<path d="M466,262 L473,258 L486,255 L560,236 L563,240 L560,246 L564,250 L564,262 L559,264 L559,270 L564,272 L564,290 L559,292 L559,298 L564,300 L563,308 L470,334 L466,330 L468,324 L464,320 L464,312 L469,310 L469,304 L464,302 L464,284 L469,282 L469,276 L464,274 Z" fill="#7a8792" stroke="#0f2236" stroke-width="1.2" stroke-linejoin="round" stroke-linecap="round" />
<path d="M472,266 L556,244 L556,304 L476,326 L470,318 L470,272 Z" fill="#59646f" stroke="#0f2236" stroke-width="1" stroke-linejoin="round" stroke-linecap="round" />
<polygon points="476.0,266.0 556.0,248.0 556.0,256.0 476.0,274.0" fill="#39434e" stroke="none" stroke-width="1" stroke-linejoin="round" />
<polygon points="476.0,274.0 556.0,256.0 556.0,262.0 476.0,280.0" fill="#6b7884" stroke="none" stroke-width="1" stroke-linejoin="round" />
<polygon points="476.0,280.0 556.0,262.0 556.0,268.0 476.0,286.0" fill="#39434e" stroke="none" stroke-width="1" stroke-linejoin="round" />
<polygon points="472.0,300.0 520.0,290.0 556.0,296.0 556.0,304.0 476.0,326.0 470.0,318.0" fill="#8a949d" stroke="none" stroke-width="1" stroke-linejoin="round" />
<polygon points="474.0,259.0 486.0,256.0 486.0,260.0 474.0,263.0" fill="#eef2f5" stroke="#0f2236" stroke-width="0.9" stroke-linejoin="round" />
<polygon points="492.0,254.0 533.0,243.5 534.0,247.0 493.0,258.0" fill="#eef2f5" stroke="#0f2236" stroke-width="0.9" stroke-linejoin="round" />
<polygon points="541.0,241.5 556.0,238.0 556.0,241.0 541.0,245.0" fill="#eef2f5" stroke="#0f2236" stroke-width="0.9" stroke-linejoin="round" />
<polygon points="439.0,345.0 492.0,331.0 493.0,377.0 463.0,380.5 439.0,382.5" fill="#59646f" stroke="#0f2236" stroke-width="1" stroke-linejoin="round" />
<polygon points="457.0,360.0 461.0,359.0 464.0,372.0 492.0,365.5 493.0,371.0 461.0,378.5" fill="#dce5ec" stroke="#0f2236" stroke-width="1" stroke-linejoin="round" />
<polygon points="440.0,352.0 492.0,338.0 492.0,346.0 440.0,362.0" fill="#3c4752" stroke="none" stroke-width="1" stroke-linejoin="round" />
<polygon points="497.0,330.0 532.0,320.0 532.0,344.0 524.0,350.0 524.0,366.0 497.0,372.0" fill="#4a525c" stroke="#0f2236" stroke-width="1" stroke-linejoin="round" />
<polygon points="538.0,318.0 566.0,311.0 566.0,352.0 538.0,360.0" fill="#8595a3" stroke="#0f2236" stroke-width="1" stroke-linejoin="round" />
<polygon points="566.0,324.0 571.0,322.5 571.0,358.0 566.0,359.5" fill="#dce5ec" stroke="#0f2236" stroke-width="1" stroke-linejoin="round" />
<polygon points="538.0,318.0 566.0,311.0 566.0,318.0 538.0,326.0" fill="#5a6672" stroke="none" stroke-width="1" stroke-linejoin="round" />
<path d="M510,356 L530,350 L534,362 L520,372 L508,370 Z" fill="#2c343d" stroke="#0f2236" stroke-width="0.8" stroke-linejoin="round" stroke-linecap="round" />
<polygon points="467.0,212.8 498.0,205.2 498.0,240.0 467.0,247.0" fill="#4a5562" stroke="none" stroke-width="1" stroke-linejoin="round" />
<polygon points="507.0,203.2 545.5,193.6 545.5,229.0 507.0,238.0" fill="#4a5562" stroke="none" stroke-width="1" stroke-linejoin="round" />
<polygon points="467.0,212.8 498.0,205.2 498.0,201.6 467.0,196.6" fill="#dfe5ea" stroke="none" stroke-width="1" stroke-linejoin="round" />
<polygon points="507.0,203.2 545.5,193.6 545.5,190.0 507.0,184.4" fill="#dfe5ea" stroke="none" stroke-width="1" stroke-linejoin="round" />
<polygon points="545.0,215.0 566.0,210.0 566.0,224.0 545.0,229.0" fill="#3d5168" stroke="none" stroke-width="1" stroke-linejoin="round" />
<path d="M469,212.3 L496,205.7 L496.6,218 L491.5,224.7 L474.7,228.4 L469.6,219.6 Z" fill="#f4f6f8" stroke="#0f2236" stroke-width="1.1" stroke-linejoin="round" stroke-linecap="round" />
<path d="M471.5,214 L494.3,208.5 L494.6,217.3 L490.5,222.8 L475.7,226 L471.8,219 Z" fill="url(#pHex)" stroke="#6c7884" stroke-width="0.6" stroke-linejoin="round" stroke-linecap="round" />
<path d="M508.3,202.8 L544,194 L544.7,208 L538.2,213.8 L514,218.9 L509,212.3 Z" fill="#f4f6f8" stroke="#0f2236" stroke-width="1.1" stroke-linejoin="round" stroke-linecap="round" />
<path d="M510.6,204.5 L541.8,197 L542.4,207.2 L537.2,211.8 L515,216.5 L511,211.2 Z" fill="url(#pHex)" stroke="#6c7884" stroke-width="0.6" stroke-linejoin="round" stroke-linecap="round" />
<path d="M454.3,244.4 L565.9,221.8 L566,234.2 L454.3,262.6 Z" fill="#1f72c6" stroke="#0f2236" stroke-width="1.2" stroke-linejoin="round" stroke-linecap="round" />
<path d="M454.3,244.4 L565.9,221.8 L566,226.5 C540,231 530,236 515,238 C500,240 490,246 454.3,253 Z" fill="#3a8ddc" stroke="none" stroke-width="1" stroke-linejoin="round" stroke-linecap="round" />
<path d="M566,226.5 C540,231 530,236 515,238 C500,240 490,246 454.3,253" fill="none" stroke="#0d3a78" stroke-width="0.9" stroke-linejoin="round" stroke-linecap="round" />
<polyline points="454.3,244.4 565.9,221.8" fill="none" stroke="#0f2236" stroke-width="1.2" stroke-linejoin="round" stroke-linecap="round" />
<polygon points="458.5,-5.0 467.4,-5.0 467.4,241.9 458.5,243.7" fill="#9cc3e4" stroke="#0f2236" stroke-width="1.5" stroke-linejoin="round" />
<polyline points="462.1,-5.0 462.1,240.7" fill="none" stroke="#b9d8f0" stroke-width="2.2" stroke-linejoin="round" stroke-linecap="round" />
<polygon points="498.0,-5.0 506.8,-5.0 506.8,231.7 498.0,233.5" fill="#9cc3e4" stroke="#0f2236" stroke-width="1.5" stroke-linejoin="round" />
<polyline points="501.6,-5.0 501.6,230.5" fill="none" stroke="#b9d8f0" stroke-width="2.2" stroke-linejoin="round" stroke-linecap="round" />
<polygon points="545.5,-5.0 553.0,-5.0 553.0,219.2 545.5,221.0" fill="#9cc3e4" stroke="#0f2236" stroke-width="1.5" stroke-linejoin="round" />
<polyline points="549.1,-5.0 549.1,218.0" fill="none" stroke="#b9d8f0" stroke-width="2.2" stroke-linejoin="round" stroke-linecap="round" />
<polygon points="340.2,-5.0 404.8,-5.0 404.8,191.7 340.2,172.9" fill="#3c6995" stroke="#0f2236" stroke-width="1.2" stroke-linejoin="round" />
<polygon points="404.8,-5.0 412.9,-5.0 412.9,190.7 404.8,191.7" fill="#6d98c6" stroke="#0f2236" stroke-width="1.1" stroke-linejoin="round" />
<polygon points="354.4,195.8 385.0,188.1 391.5,190.2 359.5,199.8 359.5,392.0 354.4,392.0" fill="#e6edf3" stroke="#0f2236" stroke-width="1.1" stroke-linejoin="round" />
<path d="M359.5,199.8 L433.8,217 L433.8,380 L434.8,382.3 L374,363 L374,388 L359.5,392 Z" fill="#3d6a96" stroke="#0f2236" stroke-width="1.2" stroke-linejoin="round" stroke-linecap="round" />
<polygon points="359.5,199.8 376.0,203.6 376.0,363.6 374.0,363.0 374.0,388.0 359.5,392.0" fill="#315c8a" stroke="none" stroke-width="1" stroke-linejoin="round" />
<polygon points="376.0,203.6 433.8,217.0 433.8,223.0 376.0,209.5" fill="#86b0d8" stroke="none" stroke-width="1" stroke-linejoin="round" />
<polygon points="376.0,209.5 433.8,223.0 433.8,227.0 376.0,213.0" fill="#5f8fbe" stroke="none" stroke-width="1" stroke-linejoin="round" />
<polygon points="359.5,343.0 371.0,341.5 371.0,372.0 374.0,372.5 374.0,388.0 359.5,392.0" fill="#3f5d7e" stroke="none" stroke-width="1" stroke-linejoin="round" />
<polygon points="359.5,372.0 371.0,368.0 374.0,372.5 374.0,388.0 359.5,392.0" fill="#5b7b9b" stroke="none" stroke-width="1" stroke-linejoin="round" />
<path d="M359.5,338.7 L375,336.5 L375,372 L370.8,371.5 L370.8,341.3 L359.5,343 Z" fill="#dce5ec" stroke="#0f2236" stroke-width="1" stroke-linejoin="round" stroke-linecap="round" />
<polyline points="359.5,199.8 359.5,392.0" fill="none" stroke="#0f2236" stroke-width="1.2" stroke-linejoin="round" stroke-linecap="round" />
<polygon points="571.5,323.5 575.6,324.7 579.7,325.9 583.8,327.2 587.8,328.4 591.9,329.6 596.0,330.8 596.0,342.8 591.9,341.6 587.8,340.3 583.8,339.1 579.7,337.8 575.6,336.6 571.5,335.3" fill="#3a4652" stroke="none" stroke-width="1" stroke-linejoin="round" />
<polygon points="571.5,323.5 575.6,324.7 579.7,325.9 583.8,327.2 587.8,328.4 591.9,329.6 596.0,330.8 596.0,336.3 591.9,335.0 587.8,333.6 583.8,332.2 579.7,330.9 575.6,329.5 571.5,328.2" fill="#56636f" stroke="none" stroke-width="1" stroke-linejoin="round" />
<polyline points="571.5,323.5 575.6,324.7 579.7,325.9 583.8,327.2 587.8,328.4 591.9,329.6 596.0,330.8" fill="none" stroke="#0f2236" stroke-width="1.2" stroke-linejoin="round" stroke-linecap="round" />
<polyline points="571.5,335.3 575.6,336.6 579.7,337.8 583.8,339.1 587.8,340.3 591.9,341.6 596.0,342.8" fill="none" stroke="#0f2236" stroke-width="1.2" stroke-linejoin="round" stroke-linecap="round" />
<polygon points="463.8,380.0 480.0,371.5 494.0,378.0 506.0,376.0 509.0,366.0 535.0,361.0 537.0,353.0 548.0,350.0 566.0,357.5 571.5,357.5 571.5,364.0 520.0,380.0 480.0,387.0" fill="#4a92d6" stroke="none" stroke-width="1" stroke-linejoin="round" opacity="0.92"/>
<path d="M480,371.5 L494,378 L506,376 L509,366 L535,361" fill="none" stroke="#cfe6f8" stroke-width="1.2" stroke-linejoin="round" stroke-linecap="round" opacity="0.8"/>
<polyline points="463.8,380.0 500.0,393.9 600.0,429.0" fill="none" stroke="#0f2236" stroke-width="1.3" stroke-linejoin="round" stroke-linecap="round" />
<path d="M487.0,304.0 C489.1,305.0 493.4,304.0 499.5,310.0 C505.6,316.0 515.5,331.7 523.6,340.0 C531.8,348.3 540.4,352.9 548.4,359.6 C556.4,366.3 559.6,372.7 571.5,380.0 C583.4,387.3 607.5,397.3 620.0,403.4 C632.5,409.5 642.2,414.3 646.6,416.5 L635,422.3 L692.6,428.9 L678.7,402.6 L666.3,407.7 C658.6,404.6 631.2,393.4 620.0,388.8 C608.8,384.2 608.6,384.9 599.2,380.0 C589.8,375.1 574.1,366.3 563.7,359.6 C553.3,352.9 545.5,348.3 536.7,340.0 C527.9,331.7 519.3,316.0 511.0,310.0 C502.7,304.0 491.0,305.0 487.0,304.0 Z" fill="#1a78d2" stroke="#0c376e" stroke-width="1.3" stroke-linejoin="round" stroke-linecap="round" />
<path d="M1042.5,645.0 C1036.2,641.7 1015.4,632.5 1005.0,625.0 C994.6,617.5 986.7,606.7 980.0,600.0 C973.3,593.3 967.5,587.5 965.0,585.0 L972.5,581 L940,572.5 L943.75,605 L955.0,597.5 C957.5,600.8 963.8,609.9 970.0,617.0 C976.2,624.1 984.0,633.0 992.5,640.0 C1001.0,647.0 1016.2,655.8 1021.0,659.0 Z" fill="#1a78d2" stroke="#0c376e" stroke-width="1.3" stroke-linejoin="round" stroke-linecap="round" />
<path d="M1080.0,611.0 C1075.8,608.8 1062.9,601.8 1055.0,597.5 C1047.1,593.2 1039.0,589.6 1032.5,585.0 C1026.0,580.4 1018.8,572.5 1016.0,570.0 L1021,565 L997.5,556 L1001,580 L1006.0,576.0 C1008.3,579.2 1014.3,589.2 1020.0,595.0 C1025.7,600.8 1032.7,606.4 1040.0,611.0 C1047.3,615.6 1060.0,620.6 1064.0,622.5 Z" fill="#1a78d2" stroke="#0c376e" stroke-width="1.3" stroke-linejoin="round" stroke-linecap="round" />
<path d="M1125,400 C1121,432 1106,455 1076,472 L1070,459 L1056,483 L1084,486 L1080.5,478.5 C1112,462 1131,438 1136,404.5 Z" fill="#1a78d2" stroke="#0c376e" stroke-width="1.3" stroke-linejoin="round" stroke-linecap="round" />
<path d="M800,282 C800,272 808,267.5 817,267.5 C826,267.5 831.5,273 831.5,283 L831.5,471 L826.5,471 L826.5,283 Z" fill="#e9f0f6" stroke="#0f2236" stroke-width="1.3" stroke-linejoin="round" stroke-linecap="round" />
<path d="M795.5,284 C795.5,273 802,267.5 811,267.5 C820,267.5 826.5,273 826.5,284 L826.5,472 L795.5,466.5 Z" fill="url(#gGauge)" stroke="#0f2236" stroke-width="1.4" stroke-linejoin="round" stroke-linecap="round" />
<polygon points="796.3,395.0 825.8,397.0 825.8,471.5 796.3,466.0" fill="url(#gGW)" stroke="none" stroke-width="1" stroke-linejoin="round" />
<polygon points="827.2,397.0 830.8,397.0 830.8,470.5 827.2,470.5" fill="#9cc6e8" stroke="none" stroke-width="1" stroke-linejoin="round" />
<line x1="796" y1="282.0" x2="813.5" y2="283.2" stroke="#0f2236" stroke-width="1.6"/>
<line x1="796" y1="286.4" x2="807" y2="287.1" stroke="#0f2236" stroke-width="1.4"/>
<line x1="796" y1="290.9" x2="807" y2="291.5" stroke="#0f2236" stroke-width="1.4"/>
<line x1="796" y1="295.3" x2="807" y2="295.9" stroke="#0f2236" stroke-width="1.4"/>
<line x1="796" y1="299.8" x2="807" y2="300.4" stroke="#0f2236" stroke-width="1.4"/>
<line x1="796" y1="304.2" x2="813.5" y2="305.4" stroke="#0f2236" stroke-width="1.6"/>
<line x1="796" y1="308.7" x2="807" y2="309.3" stroke="#0f2236" stroke-width="1.4"/>
<line x1="796" y1="313.1" x2="807" y2="313.7" stroke="#0f2236" stroke-width="1.4"/>
<line x1="796" y1="317.6" x2="807" y2="318.2" stroke="#0f2236" stroke-width="1.4"/>
<line x1="796" y1="322.0" x2="807" y2="322.6" stroke="#0f2236" stroke-width="1.4"/>
<line x1="796" y1="326.5" x2="813.5" y2="327.7" stroke="#0f2236" stroke-width="1.6"/>
<line x1="796" y1="330.9" x2="807" y2="331.5" stroke="#0f2236" stroke-width="1.4"/>
<line x1="796" y1="335.4" x2="807" y2="336.0" stroke="#0f2236" stroke-width="1.4"/>
<line x1="796" y1="339.8" x2="807" y2="340.4" stroke="#0f2236" stroke-width="1.4"/>
<line x1="796" y1="344.3" x2="807" y2="344.9" stroke="#0f2236" stroke-width="1.4"/>
<line x1="796" y1="348.7" x2="813.5" y2="349.9" stroke="#0f2236" stroke-width="1.6"/>
<line x1="796" y1="353.2" x2="807" y2="353.8" stroke="#0f2236" stroke-width="1.4"/>
<line x1="796" y1="357.6" x2="807" y2="358.2" stroke="#0f2236" stroke-width="1.4"/>
<line x1="796" y1="362.1" x2="807" y2="362.7" stroke="#0f2236" stroke-width="1.4"/>
<line x1="796" y1="366.5" x2="807" y2="367.1" stroke="#0f2236" stroke-width="1.4"/>
<line x1="796" y1="371.0" x2="813.5" y2="372.2" stroke="#0f2236" stroke-width="1.6"/>
<line x1="796" y1="375.4" x2="807" y2="376.0" stroke="#0f2236" stroke-width="1.4"/>
<line x1="796" y1="379.9" x2="807" y2="380.5" stroke="#0f2236" stroke-width="1.4"/>
<line x1="796" y1="384.3" x2="807" y2="384.9" stroke="#0f2236" stroke-width="1.4"/>
<line x1="796" y1="388.8" x2="807" y2="389.4" stroke="#0f2236" stroke-width="1.4"/>
<line x1="796" y1="393.2" x2="813.5" y2="394.4" stroke="#0f2236" stroke-width="1.6"/>
<line x1="796" y1="397.7" x2="807" y2="398.3" stroke="#0f2236" stroke-width="1.4"/>
<line x1="796" y1="402.1" x2="807" y2="402.7" stroke="#0f2236" stroke-width="1.4"/>
<line x1="796" y1="406.6" x2="807" y2="407.2" stroke="#0f2236" stroke-width="1.4"/>
<line x1="796" y1="411.0" x2="807" y2="411.6" stroke="#0f2236" stroke-width="1.4"/>
<line x1="796" y1="415.5" x2="813.5" y2="416.7" stroke="#0f2236" stroke-width="1.6"/>
<line x1="796" y1="419.9" x2="807" y2="420.5" stroke="#0f2236" stroke-width="1.4"/>
<line x1="796" y1="424.4" x2="807" y2="425.0" stroke="#0f2236" stroke-width="1.4"/>
<line x1="796" y1="428.8" x2="807" y2="429.4" stroke="#0f2236" stroke-width="1.4"/>
<line x1="796" y1="433.3" x2="807" y2="433.9" stroke="#0f2236" stroke-width="1.4"/>
<line x1="796" y1="437.7" x2="813.5" y2="438.9" stroke="#0f2236" stroke-width="1.6"/>
<line x1="796" y1="442.2" x2="807" y2="442.8" stroke="#0f2236" stroke-width="1.4"/>
<line x1="796" y1="446.6" x2="807" y2="447.2" stroke="#0f2236" stroke-width="1.4"/>
<line x1="796" y1="451.1" x2="807" y2="451.7" stroke="#0f2236" stroke-width="1.4"/>
<line x1="796" y1="455.5" x2="807" y2="456.1" stroke="#0f2236" stroke-width="1.4"/>
<line x1="796" y1="460.0" x2="813.5" y2="461.2" stroke="#0f2236" stroke-width="1.6"/>
<line x1="796" y1="464.4" x2="807" y2="465.0" stroke="#0f2236" stroke-width="1.4"/>
<path d="M795.5,284 C795.5,273 802,267.5 811,267.5 C820,267.5 826.5,273 826.5,284 L826.5,472 L795.5,466.5 Z" fill="none" stroke="#0f2236" stroke-width="1.4" stroke-linejoin="round" stroke-linecap="round" />
<path d="M797,464 C786,466 780,470 784,474" fill="none" stroke="#e8f4fc" stroke-width="1.4" stroke-linejoin="round" stroke-linecap="round" />
<path d="M836,466 C843,469 844,474 834,478" fill="none" stroke="#e8f4fc" stroke-width="1.4" stroke-linejoin="round" stroke-linecap="round" />
<path d="M788,476 C793,479 798,480 803,481" fill="none" stroke="#e8f4fc" stroke-width="1.2" stroke-linejoin="round" stroke-linecap="round" />
<path d="M799,482 C815,488 838,486 849,480" fill="none" stroke="#e8f4fc" stroke-width="1.6" stroke-linejoin="round" stroke-linecap="round" />
<polyline points="796.0,470.0 796.0,492.0" fill="none" stroke="#7fb2df" stroke-width="0.9" stroke-linejoin="round" stroke-linecap="round" opacity="0.6"/>
<polyline points="826.5,474.0 826.5,498.0" fill="none" stroke="#7fb2df" stroke-width="0.9" stroke-linejoin="round" stroke-linecap="round" opacity="0.6"/>
<polyline points="831.0,474.0 831.0,496.0" fill="none" stroke="#7fb2df" stroke-width="0.9" stroke-linejoin="round" stroke-linecap="round" opacity="0.6"/>
<polyline points="833.0,403.0 851.5,407.3" fill="none" stroke="#ffffff" stroke-width="2.2" stroke-linejoin="round" stroke-linecap="round" />
<polyline points="833.0,403.0 851.5,407.3" fill="none" stroke="#0f2236" stroke-width="0.8" stroke-linejoin="round" stroke-linecap="round" />
<polyline points="854.0,412.0 854.0,468.0" fill="none" stroke="#ffffff" stroke-width="3.4" stroke-linejoin="round" stroke-linecap="round" />
<polyline points="854.0,414.0 854.0,466.0" fill="none" stroke="#111" stroke-width="1.7" stroke-linejoin="round" stroke-linecap="round" />
<path d="M854,407 L858.2,420 L849.8,420 Z" fill="#111" stroke="#fff" stroke-width="0.8" stroke-linejoin="round" stroke-linecap="round" />
<path d="M854,473.5 L858.4,459.5 L849.6,459.5 Z" fill="#111" stroke="#fff" stroke-width="0.8" stroke-linejoin="round" stroke-linecap="round" />
<polyline points="700.0,107.5 613.0,107.5 566.0,162.0" fill="none" stroke="#1a1a1a" stroke-width="1.4" stroke-linejoin="round" stroke-linecap="round" />
<polygon points="563.5,165.0 573.9,159.4 567.5,153.9" fill="#111" stroke="none" stroke-width="1" stroke-linejoin="round" />
<polyline points="904.0,178.0 698.0,178.0 603.0,290.0" fill="none" stroke="#1a1a1a" stroke-width="1.4" stroke-linejoin="round" stroke-linecap="round" />
<polygon points="600.0,293.5 610.3,287.8 603.9,282.4" fill="#111" stroke="none" stroke-width="1" stroke-linejoin="round" />
<polyline points="939.0,286.0 853.0,286.0" fill="none" stroke="#1a1a1a" stroke-width="1.4" stroke-linejoin="round" stroke-linecap="round" />
<polygon points="845.0,286.0 856.5,290.6 856.5,281.4" fill="#111" stroke="none" stroke-width="1" stroke-linejoin="round" />
<polyline points="1141.0,303.8 1091.0,303.8 1091.0,362.5 966.0,500.0" fill="none" stroke="#1a1a1a" stroke-width="1.4" stroke-linejoin="round" stroke-linecap="round" />
<circle cx="966" cy="500" r="4.8" fill="#1b1f24"/>
<polyline points="1129.5,558.0 1102.0,558.0" fill="none" stroke="#1a1a1a" stroke-width="1.4" stroke-linejoin="round" stroke-linecap="round" />
<polygon points="1094.0,558.0 1104.0,562.2 1104.0,553.8" fill="#111" stroke="none" stroke-width="1" stroke-linejoin="round" />
<polyline points="281.0,541.5 383.0,541.5 560.0,391.0" fill="none" stroke="#1a1a1a" stroke-width="1.4" stroke-linejoin="round" stroke-linecap="round" />
<circle cx="560" cy="391" r="4.8" fill="#1b1f24"/>
<polyline points="560.0,664.3 604.0,664.3 699.0,521.5" fill="none" stroke="#1a1a1a" stroke-width="1.4" stroke-linejoin="round" stroke-linecap="round" />
<circle cx="699" cy="521.5" r="4.8" fill="#1b1f24"/>
<text x="722" y="100" textLength="127" lengthAdjust="spacingAndGlyphs" text-anchor="start">water level</text>
<text x="708" y="129.4" textLength="163" lengthAdjust="spacingAndGlyphs" text-anchor="start">στάθμη νερού</text>
<text x="918" y="171" textLength="158" lengthAdjust="spacingAndGlyphs" text-anchor="start">track channel</text>
<text x="914" y="199" textLength="170" lengthAdjust="spacingAndGlyphs" text-anchor="start">κανάλι οδηγού</text>
<text x="950" y="296" textLength="104" lengthAdjust="spacingAndGlyphs" text-anchor="start">5-10mm</text>
<text x="1148" y="297" textLength="138" lengthAdjust="spacingAndGlyphs" text-anchor="start">water depth</text>
<text x="1148" y="326.5" textLength="74" lengthAdjust="spacingAndGlyphs" text-anchor="start">gauge</text>
<text x="1145.6" y="553" textLength="151.4" lengthAdjust="spacingAndGlyphs" text-anchor="start">external face</text>
<text x="1134" y="583" textLength="173.6" lengthAdjust="spacingAndGlyphs" text-anchor="start">εξωτερική όψη</text>
<text x="134" y="536" textLength="126" lengthAdjust="spacingAndGlyphs" text-anchor="start">water level</text>
<text x="107" y="566" textLength="164" lengthAdjust="spacingAndGlyphs" text-anchor="start">στάθμη νερού</text>
<text x="330" y="659" textLength="222" lengthAdjust="spacingAndGlyphs" text-anchor="start">sealed inner gasket</text>
<text x="112" y="688.7" textLength="440" lengthAdjust="spacingAndGlyphs" text-anchor="start">σφραγισμένο εσωτερικό παρέμβυσμα</text>
</svg>
</body></html>
